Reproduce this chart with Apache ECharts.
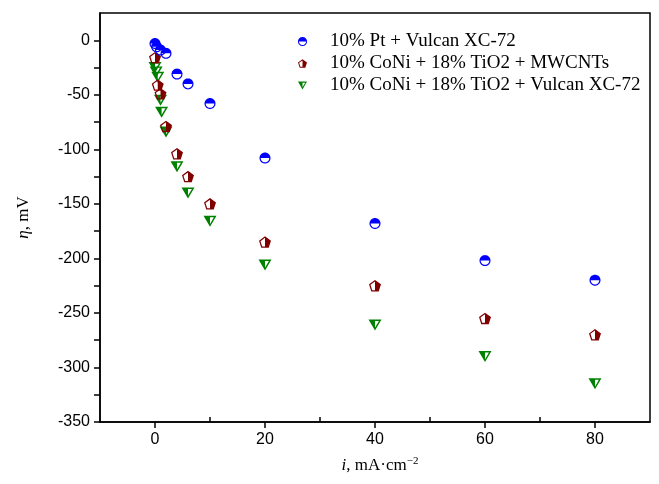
<!DOCTYPE html>
<html>
<head>
<meta charset="utf-8">
<script src="https://cdn.jsdelivr.net/npm/echarts@6/dist/echarts.min.js"></script>
<style>
html, body { margin: 0; padding: 0; background: #fff; }
#chart { width: 659px; height: 484px; }
</style>
</head>
<body>
<div id="chart"></div>
<script>
const seriesNames = [
  '10% Pt + Vulcan XC-72',
  '10% CoNi + 18% TiO2 + MWCNTs',
  '10% CoNi + 18% TiO2 + Vulcan XC-72'
]

const ptX = [0, 0.3, 1, 2, 4, 6, 10, 20, 40, 60, 80]
const ptY = [-3, -6, -9, -12, -31, -40, -58, -108, -168, -202, -220]

const mwX = [0, 0.5, 1, 2, 4, 6, 10, 20, 40, 60, 80]
const mwY = [-16, -41, -49, -79, -104, -125, -150, -185, -225, -255, -270]

const vuX = [0, 0.2, 0.5, 1, 1.2, 2, 4, 6, 10, 20, 40, 60, 80]
const vuY = [-25, -29, -34, -55, -66, -84, -116, -140, -166, -206, -261, -290, -315]

const xLabelTicks = [0, 20, 40, 60, 80]
const xMinorTicks = [10, 30, 50, 70]
const yLabelTicks = [-350, -300, -250, -200, -150, -100, -50, 0]
const yTicks = [-350, -325, -300, -275, -250, -225, -200, -175, -150, -125, -100, -75, -50, -25, 0]

// half filled markers: outer outline + reversed inner outline (ring) + filled half
const fmt = (p) => p[0].toFixed(2) + ',' + p[1].toFixed(2)
const poly = (pts) => 'M' + pts.map(fmt).join('L') + 'Z'
const arcPts = (cx, cy, r, a0, a1, n) => {
  const out = []
  for (let i = 0; i <= n; i++) {
    const a = a0 + (a1 - a0) * i / n
    out.push([cx + r * Math.cos(a), cy + r * Math.sin(a)])
  }
  return out
}
const regular = (cx, cy, r, startDeg, k) => {
  const out = []
  for (let i = 0; i < k; i++) {
    const a = (startDeg + 360 / k * i) * Math.PI / 180
    out.push([cx + r * Math.cos(a), cy + r * Math.sin(a)])
  }
  return out
}

const circleSymbol = 'path://' +
  poly(arcPts(10, 10, 10, 0, 2 * Math.PI, 48)) +
  poly(arcPts(10, 10, 7.8, 2 * Math.PI, 0, 48)) +
  poly(arcPts(10, 10, 10, Math.PI, 2 * Math.PI, 24))

const pentOuter = regular(10, 10, 10, -90, 5)
const pentInner = regular(10, 10, 10 - 2 / Math.cos(Math.PI / 5), -90, 5).reverse()
const pentSymbol = 'path://' + poly(pentOuter) + poly(pentInner) +
  poly([pentOuter[0], pentOuter[1], pentOuter[2], [10, 10 + 10 * Math.cos(Math.PI / 5)]])

const triOuter = regular(10, 10, 10, -150, 3)
const triInner = regular(10, 10, 10 - 4, -150, 3).reverse()
const triSymbol = 'path://' + poly(triOuter) + poly(triInner) +
  poly([triOuter[0], [10, 10 - 5], triOuter[2]])

const zip = (xs, ys) => xs.map((x, i) => [x, ys[i]])

const chart = echarts.init(document.getElementById('chart'))

const labelFont = { fontFamily: 'Liberation Sans', fontSize: 16, color: '#000' }

chart.setOption({
  animation: false,
  backgroundColor: '#fff',
  grid: {
    left: 100, right: 9, top: 13, bottom: 62,
    show: true, borderColor: '#000', borderWidth: 1.5, backgroundColor: 'transparent'
  },
  legend: {
    orient: 'vertical',
    left: 293,
    top: 27,
    itemWidth: 9,
    itemHeight: 9,
    itemGap: 3,
    data: seriesNames,
    textStyle: {
      fontFamily: 'Liberation Serif',
      fontSize: 19,
      color: '#000',
      padding: [0, 0, 0, 18]
    }
  },
  xAxis: [
    {
      type: 'value',
      min: -10,
      max: 90,
      name: '{it|i}, mA·cm{sup|−2}',
      nameLocation: 'middle',
      nameGap: 34,
      nameTextStyle: {
        fontFamily: 'Liberation Serif',
        fontSize: 17,
        color: '#000',
        padding: [0, 0, 0, 10],
        rich: {
          it: { fontFamily: 'Liberation Serif', fontStyle: 'italic', fontSize: 17 },
          sup: { fontFamily: 'Liberation Serif', fontSize: 11, verticalAlign: 'top', padding: [0, 0, 9, 0] }
        }
      },
      axisLine: { onZero: false, lineStyle: { color: '#000', width: 1.5 } },
      axisTick: { customValues: xLabelTicks, length: 6, lineStyle: { color: '#000', width: 1.5 } },
      axisLabel: { customValues: xLabelTicks, margin: 10, ...labelFont },
      splitLine: { show: false }
    },
    {
      type: 'value',
      min: -10,
      max: 90,
      position: 'bottom',
      axisLine: { show: false, onZero: false },
      axisTick: { customValues: xMinorTicks, inside: true, length: 5, lineStyle: { color: '#000', width: 1.5 } },
      axisLabel: { show: false },
      splitLine: { show: false }
    }
  ],
  yAxis: {
    type: 'value',
    min: -350,
    max: 25,
    name: '{it|η}, mV',
    nameLocation: 'middle',
    nameGap: 68,
    nameTextStyle: {
      fontFamily: 'Liberation Serif',
      fontSize: 17,
      color: '#000',
      rich: {
        it: { fontFamily: 'Liberation Serif', fontStyle: 'italic', fontSize: 17 }
      }
    },
    axisLine: { onZero: false, lineStyle: { color: '#000', width: 1.5 } },
    axisTick: { customValues: yTicks, length: 6, lineStyle: { color: '#000', width: 1.5 } },
    axisLabel: { customValues: yLabelTicks, margin: 10, ...labelFont },
    splitLine: { show: false }
  },
  series: [
    {
      name: seriesNames[0],
      type: 'scatter',
      z: 4,
      symbol: circleSymbol,
      symbolSize: 11,
      itemStyle: { color: '#0000ff', opacity: 1 },
      data: zip(ptX, ptY)
    },
    {
      name: seriesNames[1],
      type: 'scatter',
      z: 3,
      symbol: pentSymbol,
      symbolSize: [12, 11.5],
      itemStyle: { color: '#800000', opacity: 1 },
      data: zip(mwX, mwY)
    },
    {
      name: seriesNames[2],
      type: 'scatter',
      z: 2,
      symbol: triSymbol,
      symbolSize: [13, 11],
      itemStyle: { color: '#008000', opacity: 1 },
      data: zip(vuX, vuY)
    }
  ]
})
</script>
</body>
</html>
